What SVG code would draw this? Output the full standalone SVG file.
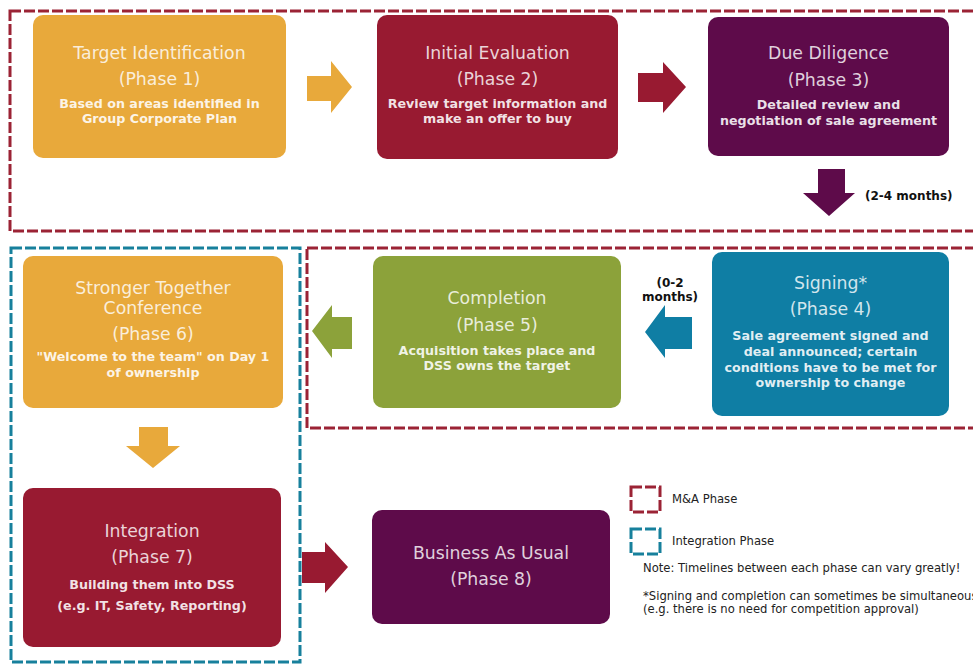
<svg xmlns="http://www.w3.org/2000/svg" width="973" height="667" viewBox="0 0 973 667">
<style>
.bg{fill:#ffffff}
.mna{fill:none;stroke:#9B2335;stroke-width:3;stroke-dasharray:11 3}
.intg{fill:none;stroke:#17809C;stroke-width:3;stroke-dasharray:11 3}
.gold{fill:#E8A93B}
.crim{fill:#981A31}
.purp{fill:#5E0B4A}
.green{fill:#8CA23A}
.blue{fill:#0F7EA4}
text{font-family:"DejaVu Sans","Verdana","Liberation Sans",sans-serif;text-anchor:middle}
.t{font-size:17.3px;fill:#ffffff;fill-opacity:0.82}
.s{font-size:12.7px;font-weight:bold;fill:#ffffff;fill-opacity:0.88}
.lbl{font-size:12px;font-weight:bold;fill:#111111}
.leg{font-size:11.6px;fill:#222222;text-anchor:start}
</style>
<rect class="bg" x="0" y="0" width="973" height="667"/>

<g id="groups">
  <rect id="mna-top" class="mna" x="10" y="11" width="975" height="220"/>
  <rect id="mna-mid" class="mna" x="307" y="248" width="680" height="180"/>
  <rect id="integration" class="intg" x="11" y="248" width="289" height="414"/>
</g>

<g id="connectors">
  <polygon class="gold" points="307,76 331,76 331,61 352,87 331,113 331,101 307,101"/>
  <polygon class="crim" points="638,73 663,73 663,62 686,87 663,113 663,102 638,102"/>
  <polygon class="purp" points="818,169 845,169 845,193 855,193 829,216 803,193 818,193"/>
  <polygon class="green" points="352,317 332,317 332,305 312,331 332,358 332,349 352,349"/>
  <polygon class="blue" points="692,317 665,317 665,305 645,332 665,358 665,349 692,349"/>
  <polygon class="gold" points="139,427 168,427 168,446 180,446 153,468 126,446 139,446"/>
  <polygon class="crim" points="302,552 325,552 325,542 348,567 325,593 325,583 302,583"/>
  <text class="lbl" x="865" y="200" style="text-anchor:start">(2-4 months)</text>
  <text class="lbl" x="670" y="287">(0-2</text>
  <text class="lbl" x="670" y="301">months)</text>
</g>

<g id="phase1">
  <rect class="gold" x="33" y="15" width="253" height="143" rx="10"/>
  <text class="t" x="159.5" y="59">Target Identification</text>
  <text class="t" x="159.5" y="85">(Phase 1)</text>
  <text class="s" x="159.5" y="108">Based on areas identified in</text>
  <text class="s" x="159.5" y="123">Group Corporate Plan</text>
</g>

<g id="phase2">
  <rect class="crim" x="377" y="15" width="241" height="144" rx="10"/>
  <text class="t" x="497.5" y="59">Initial Evaluation</text>
  <text class="t" x="497.5" y="85">(Phase 2)</text>
  <text class="s" x="497.5" y="108">Review target information and</text>
  <text class="s" x="497.5" y="123">make an offer to buy</text>
</g>

<g id="phase3">
  <rect class="purp" x="708" y="17" width="241" height="139" rx="10"/>
  <text class="t" x="828.5" y="59">Due Diligence</text>
  <text class="t" x="828.5" y="86">(Phase 3)</text>
  <text class="s" x="828.5" y="109">Detailed review and</text>
  <text class="s" x="828.5" y="125">negotiation of sale agreement</text>
</g>

<g id="phase4">
  <rect class="blue" x="712" y="252" width="237" height="164" rx="10"/>
  <text class="t" x="830.5" y="289">Signing*</text>
  <text class="t" x="830.5" y="315">(Phase 4)</text>
  <text class="s" x="830.5" y="340">Sale agreement signed and</text>
  <text class="s" x="830.5" y="356">deal announced; certain</text>
  <text class="s" x="830.5" y="372">conditions have to be met for</text>
  <text class="s" x="830.5" y="387">ownership to change</text>
</g>

<g id="phase5">
  <rect class="green" x="373" y="256" width="248" height="152" rx="10"/>
  <text class="t" x="497" y="304">Completion</text>
  <text class="t" x="497" y="331">(Phase 5)</text>
  <text class="s" x="497" y="355">Acquisition takes place and</text>
  <text class="s" x="497" y="370">DSS owns the target</text>
</g>

<g id="phase6">
  <rect class="gold" x="23" y="256" width="260" height="152" rx="10"/>
  <text class="t" x="153" y="294">Stronger Together</text>
  <text class="t" x="153" y="314">Conference</text>
  <text class="t" x="153" y="340">(Phase 6)</text>
  <text class="s" x="153" y="361">"Welcome to the team" on Day 1</text>
  <text class="s" x="153" y="377">of ownership</text>
</g>

<g id="phase7">
  <rect class="crim" x="23" y="488" width="258" height="159" rx="10"/>
  <text class="t" x="152" y="537">Integration</text>
  <text class="t" x="152" y="563">(Phase 7)</text>
  <text class="s" x="152" y="589">Building them into DSS</text>
  <text class="s" x="152" y="610">(e.g. IT, Safety, Reporting)</text>
</g>

<g id="phase8">
  <rect class="purp" x="372" y="510" width="238" height="114" rx="10"/>
  <text class="t" x="491" y="559">Business As Usual</text>
  <text class="t" x="491" y="585">(Phase 8)</text>
</g>

<g id="legend">
  <rect class="mna" x="631" y="487" width="29" height="25"/>
  <text class="leg" x="672" y="503">M&amp;A Phase</text>
  <rect class="intg" x="631" y="529" width="29" height="25"/>
  <text class="leg" x="672" y="545">Integration Phase</text>
  <text class="leg" x="643" y="572">Note: Timelines between each phase can vary greatly!</text>
  <text class="leg" x="643" y="600">*Signing and completion can sometimes be simultaneous</text>
  <text class="leg" x="643" y="613">(e.g. there is no need for competition approval)</text>
</g>
</svg>
